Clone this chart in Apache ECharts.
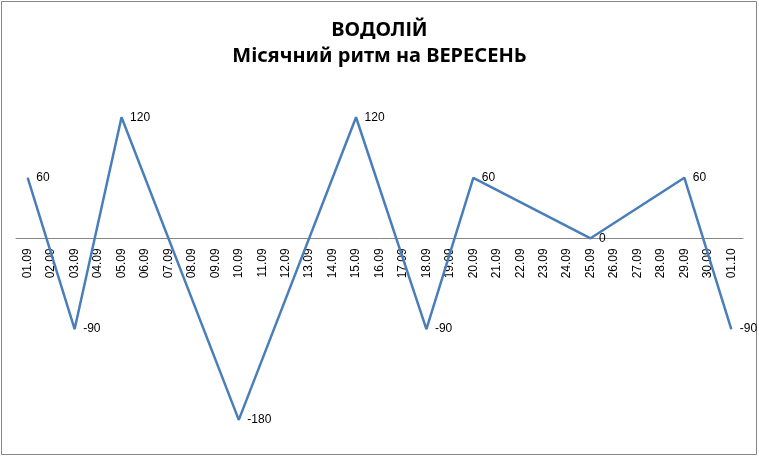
<!DOCTYPE html>
<html>
<head>
<meta charset="utf-8">
<script src="https://cdn.jsdelivr.net/npm/echarts@6/dist/echarts.min.js"></script>
<style>
html,body{margin:0;padding:0;background:#fff;}
#chart{width:759px;height:457px;}
</style>
</head>
<body>
<div id="chart"></div>
<script>
// дні місяця
let days=["01.09","02.09","03.09","04.09","05.09","06.09","07.09","08.09","09.09","10.09",
	"11.09","12.09","13.09","14.09","15.09","16.09","17.09","18.09","19.09","20.09",
	"21.09","22.09","23.09","24.09","25.09","26.09","27.09","28.09","29.09","30.09","01.10"];
// значення ритму (null - проміжні дні)
let rhythm=[60,null,-90,null,120,null,null,null,null,-180,
	null,null,null,null,120,null,null,-90,null,60,
	null,null,null,null,0,null,null,null,60,null,-90];
let titleLine1="ВОДОЛІЙ";
let titleLine2="Місячний ритм на ВЕРЕСЕНЬ";

let lineColor="#4a7ebb";
let yMin=-200,yMax=150;
let gridTop=87,gridHeight=353;
//вісь X на рівні нуля
let zeroOffset=gridHeight*yMin/(yMax-yMin);

let chart=echarts.init(document.getElementById("chart"));
let option={
	animation:false,
	title:[
		{text:titleLine1,left:"center",top:15,
			textStyle:{fontFamily:"Noto Sans",fontWeight:"bold",fontSize:20,color:"#000"}},
		{text:titleLine2,left:"center",top:41,
			textStyle:{fontFamily:"Noto Sans",fontWeight:"bold",fontSize:20,color:"#000"}}
	],
	graphic:[{
		type:"rect",
		shape:{x:1.5,y:1.5,width:755,height:453},
		style:{fill:"none",stroke:"#868686",lineWidth:1},
		silent:true
	}],
	grid:{left:16,right:16,top:gridTop,height:gridHeight,outerBoundsMode:"none",containLabel:false},
	xAxis:{
		type:"category",
		data:days,
		boundaryGap:true,
		position:"bottom",
		offset:zeroOffset,
		axisLine:{onZero:false,lineStyle:{color:"#868686",width:1}},
		axisTick:{show:false},
		axisLabel:{rotate:90,interval:0,margin:10,fontFamily:"Liberation Sans",fontSize:12,color:"#000"},
		splitLine:{show:false}
	},
	yAxis:{
		type:"value",
		min:yMin,
		max:yMax,
		show:false,
		splitLine:{show:false}
	},
	series:[{
		type:"line",
		data:rhythm,
		connectNulls:true,
		symbol:"circle",
		symbolSize:1,
		itemStyle:{color:lineColor},
		lineStyle:{color:lineColor,width:2.5},
		label:{show:true,position:"right",distance:8,fontFamily:"Liberation Sans",fontSize:12,color:"#000"}
	}]
};
chart.setOption(option);
</script>
</body>
</html>
